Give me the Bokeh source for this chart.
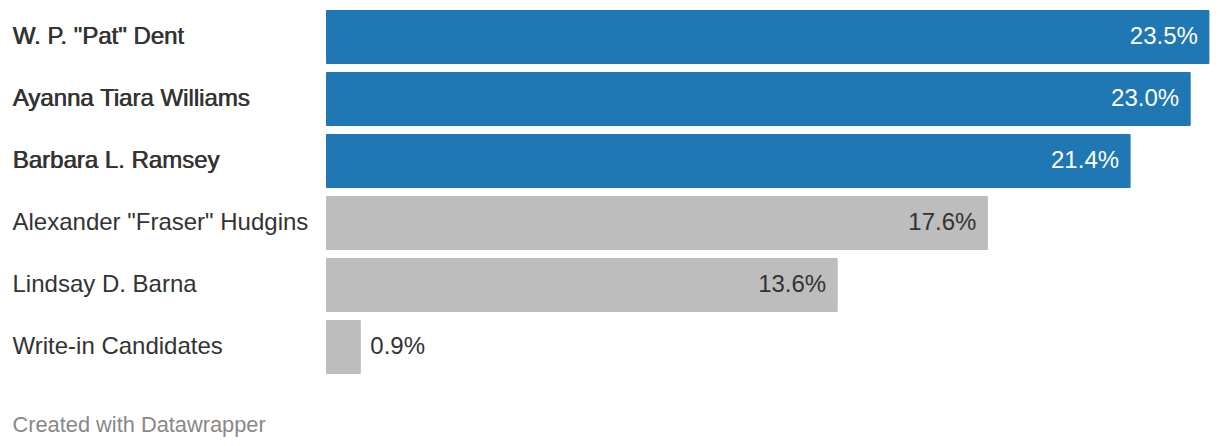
from bokeh.plotting import figure
from bokeh.models import Range1d, ColumnDataSource, Label
from bokeh.core.properties import value
from bokeh.embed import file_html
from bokeh.resources import INLINE

candidates = ['W. P. "Pat" Dent', 'Ayanna Tiara Williams', 'Barbara L. Ramsey',
              'Alexander "Fraser" Hudgins', 'Lindsay D. Barna', 'Write-in Candidates']
shares = [23.5, 23.0, 21.4, 17.6, 13.6, 0.9]
winners = [True, True, True, False, False, False]

W, H = 1220, 446
PX_PER_PCT = 37.55
LEFT_PX = 326
x_start = -LEFT_PX / PX_PER_PCT
x_end = (W - LEFT_PX) / PX_PER_PCT
ROW = 62.0
TOP = 36.5
y_top = -TOP / ROW
y_bot = (H - TOP) / ROW

BLUE = "#1f77b4"
GRAY = "#bdbdbd"
TXT = "#333333"
FONT = "Liberation Sans"
FS = "24px"

idx = list(range(len(candidates)))
colors = [BLUE if w else GRAY for w in winners]
src = ColumnDataSource(dict(y=idx, v=shares, c=colors))

p = figure(width=W, height=H, output_backend="svg", toolbar_location=None,
           x_range=Range1d(x_start, x_end), y_range=Range1d(y_bot, y_top),
           min_border=0, outline_line_color=None)
p.axis.visible = False
p.grid.visible = False
p.background_fill_color = "white"
p.border_fill_color = "white"

p.hbar(y="y", left=0, right="v", height=53 / ROW, color="c", source=src)

# candidate names
ns = ColumnDataSource(dict(x=[x_start] * len(idx), y=idx, t=candidates))
p.text(x="x", y="y", text="t", source=ns, x_offset=12, y_offset=-2,
       text_baseline="middle", text_align="left", text_font=value(FONT),
       text_font_size=FS, text_color=TXT)
# winners drawn slightly heavier
wi = [i for i in idx if winners[i]]
ws = ColumnDataSource(dict(x=[x_start] * len(wi), y=wi, t=[candidates[i] for i in wi]))
p.text(x="x", y="y", text="t", source=ws, x_offset=12.7, y_offset=-2,
       text_baseline="middle", text_align="left", text_font=value(FONT),
       text_font_size=FS, text_color=TXT)

# value labels
inside_i = [i for i in idx if shares[i] > 3]
outside_i = [i for i in idx if shares[i] <= 3]
ins = ColumnDataSource(dict(x=[shares[i] for i in inside_i], y=inside_i,
                            t=[f"{shares[i]:.1f}%" for i in inside_i],
                            c=["white" if winners[i] else TXT for i in inside_i]))
p.text(x="x", y="y", text="t", source=ins, x_offset=-11, y_offset=-2,
       text_baseline="middle", text_align="right", text_font=value(FONT),
       text_font_size=FS, text_color="c")
outs = ColumnDataSource(dict(x=[shares[i] for i in outside_i], y=outside_i,
                             t=[f"{shares[i]:.1f}%" for i in outside_i]))
p.text(x="x", y="y", text="t", source=outs, x_offset=10, y_offset=-2,
       text_baseline="middle", text_align="left", text_font=value(FONT),
       text_font_size=FS, text_color=TXT)

p.add_layout(Label(x=12, y=22, x_units="screen", y_units="screen",
                   text="Created with Datawrapper", text_font=FONT,
                   text_font_size="21.8px", text_color="#888888",
                   text_baseline="alphabetic"))

open("out.html", "w").write(file_html(p, INLINE))
